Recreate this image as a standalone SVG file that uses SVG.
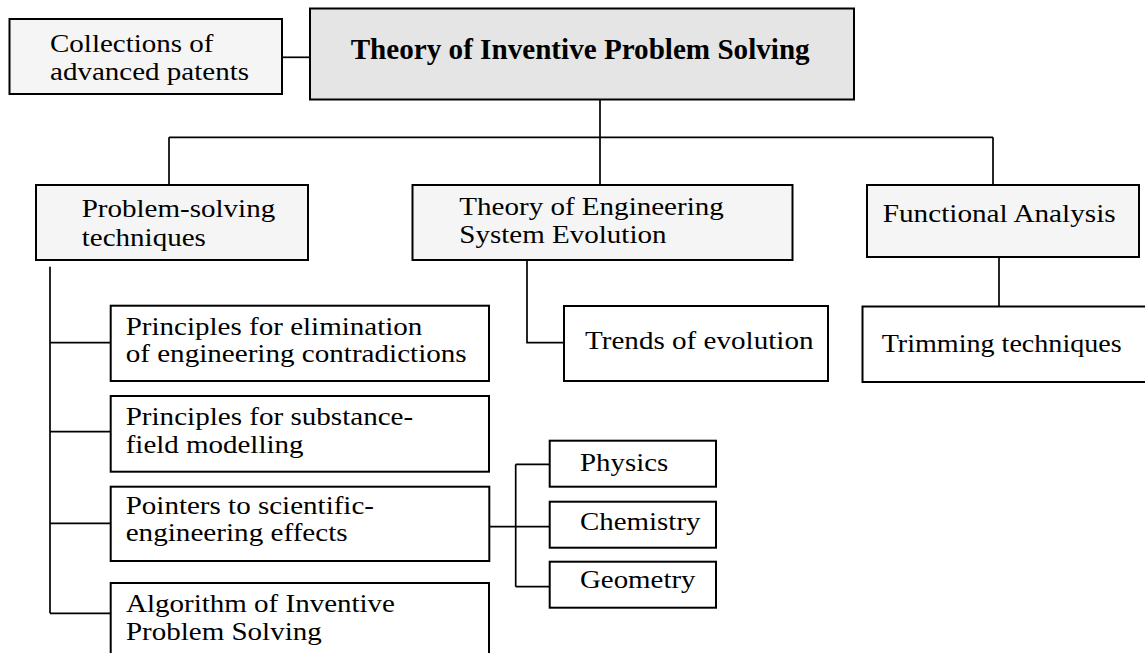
<svg xmlns="http://www.w3.org/2000/svg" width="1145" height="653" viewBox="0 0 1145 653">
  <style>
    .box { stroke: #000; stroke-width: 2; }
    .root { fill: #e5e5e5; }
    .group { fill: #f5f5f5; }
    .leaf { fill: #ffffff; }
    .lbl { font-family: "Liberation Serif", "Times New Roman", serif; font-size: 26px; fill: #000; }
    .title { font-family: "Liberation Serif", "Times New Roman", serif; font-size: 30px; font-weight: bold; fill: #000; }
    .conn line, .conn polyline { stroke: #000; stroke-width: 1.7; fill: none; }
  </style>

  <rect width="1145" height="653" fill="#ffffff"/>

  <!-- connectors -->
  <g id="connectors" class="conn">
    <line x1="282" y1="57.3" x2="310" y2="57.3"/>
    <line x1="600" y1="99.5" x2="600" y2="185"/>
    <line x1="169" y1="137.3" x2="993" y2="137.3"/>
    <line x1="169" y1="137.3" x2="169" y2="185"/>
    <line x1="993" y1="137.3" x2="993" y2="185"/>
    <!-- problem-solving techniques spine -->
    <line x1="50" y1="266.7" x2="50" y2="613.3"/>
    <line x1="50" y1="342.7" x2="110.7" y2="342.7"/>
    <line x1="50" y1="431.7" x2="110.7" y2="431.7"/>
    <line x1="50" y1="523.3" x2="110.7" y2="523.3"/>
    <line x1="50" y1="613.3" x2="110.7" y2="613.3"/>
    <!-- evolution theory to trends -->
    <polyline points="527,260 527,342.7 564,342.7"/>
    <!-- functional analysis to trimming -->
    <line x1="999" y1="253" x2="999" y2="306.5"/>
    <!-- effects to sciences -->
    <line x1="490" y1="526.7" x2="549.7" y2="526.7"/>
    <line x1="515.7" y1="464.3" x2="515.7" y2="586.7"/>
    <line x1="515.7" y1="464.3" x2="549.7" y2="464.3"/>
    <line x1="515.7" y1="586.7" x2="549.7" y2="586.7"/>
  </g>

  <g id="patents">
    <rect class="box group" x="9.5" y="19" width="272.5" height="75"/>
    <text class="lbl" x="50" y="51.7" textLength="163.5" lengthAdjust="spacingAndGlyphs">Collections of</text>
    <text class="lbl" x="50" y="80" textLength="199" lengthAdjust="spacingAndGlyphs">advanced patents</text>
  </g>

  <g id="triz">
    <rect class="box root" x="310" y="8.5" width="544" height="91"/>
    <text class="title" x="350.7" y="59.3" textLength="459" lengthAdjust="spacingAndGlyphs">Theory of Inventive Problem Solving</text>
  </g>

  <g id="problem-solving">
    <rect class="box group" x="36" y="185" width="272" height="75"/>
    <text class="lbl" x="81.7" y="217.3" textLength="193.5" lengthAdjust="spacingAndGlyphs">Problem-solving</text>
    <text class="lbl" x="81.7" y="246" textLength="124.2" lengthAdjust="spacingAndGlyphs">techniques</text>
  </g>

  <g id="evolution-theory">
    <rect class="box group" x="412.5" y="185" width="380" height="75"/>
    <text class="lbl" x="459.3" y="215" textLength="264.5" lengthAdjust="spacingAndGlyphs">Theory of Engineering</text>
    <text class="lbl" x="459.3" y="243.3" textLength="207.2" lengthAdjust="spacingAndGlyphs">System Evolution</text>
  </g>

  <g id="functional-analysis">
    <rect class="box group" x="867" y="185" width="272" height="72"/>
    <text class="lbl" x="882.7" y="222.3" textLength="233" lengthAdjust="spacingAndGlyphs">Functional Analysis</text>
  </g>

  <g id="trends">
    <rect class="box leaf" x="564" y="306" width="264" height="75"/>
    <text class="lbl" x="585" y="349" textLength="228.5" lengthAdjust="spacingAndGlyphs">Trends of evolution</text>
  </g>

  <g id="trimming">
    <rect class="box leaf" x="862.5" y="306.5" width="290" height="75.5"/>
    <text class="lbl" x="881.7" y="352" textLength="240" lengthAdjust="spacingAndGlyphs">Trimming techniques</text>
  </g>

  <g id="contradictions">
    <rect class="box leaf" x="110.7" y="305.7" width="378.3" height="75.3"/>
    <text class="lbl" x="125.7" y="335" textLength="296.7" lengthAdjust="spacingAndGlyphs">Principles for elimination</text>
    <text class="lbl" x="125.7" y="362" textLength="341" lengthAdjust="spacingAndGlyphs">of engineering contradictions</text>
  </g>

  <g id="substance-field">
    <rect class="box leaf" x="110.7" y="396" width="378.3" height="75.7"/>
    <text class="lbl" x="125.7" y="425" textLength="287.5" lengthAdjust="spacingAndGlyphs">Principles for substance-</text>
    <text class="lbl" x="125.7" y="453" textLength="177.8" lengthAdjust="spacingAndGlyphs">field modelling</text>
  </g>

  <g id="effects">
    <rect class="box leaf" x="110.7" y="486.7" width="378.6" height="74.3"/>
    <text class="lbl" x="125.7" y="514" textLength="248.3" lengthAdjust="spacingAndGlyphs">Pointers to scientific-</text>
    <text class="lbl" x="125.7" y="541" textLength="222" lengthAdjust="spacingAndGlyphs">engineering effects</text>
  </g>

  <g id="ariz">
    <rect class="box leaf" x="110.7" y="583" width="378.3" height="80"/>
    <text class="lbl" x="126" y="612" textLength="269" lengthAdjust="spacingAndGlyphs">Algorithm of Inventive</text>
    <text class="lbl" x="126" y="640" textLength="195.7" lengthAdjust="spacingAndGlyphs">Problem Solving</text>
  </g>

  <g id="physics">
    <rect class="box leaf" x="549.7" y="440.7" width="166.3" height="46"/>
    <text class="lbl" x="580" y="470.5" textLength="88.2" lengthAdjust="spacingAndGlyphs">Physics</text>
  </g>

  <g id="chemistry">
    <rect class="box leaf" x="549.7" y="501.7" width="166.3" height="46"/>
    <text class="lbl" x="580" y="530" textLength="120.5" lengthAdjust="spacingAndGlyphs">Chemistry</text>
  </g>

  <g id="geometry">
    <rect class="box leaf" x="549.7" y="561.7" width="166.3" height="46"/>
    <text class="lbl" x="580" y="588.3" textLength="115.5" lengthAdjust="spacingAndGlyphs">Geometry</text>
  </g>
</svg>
